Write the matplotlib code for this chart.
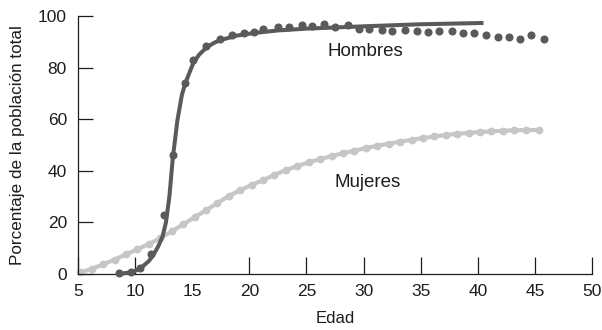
import matplotlib.pyplot as plt

# Hombres: observed points
hombres_edad = [8.6, 9.6, 10.4, 11.4, 12.5, 13.3, 14.4, 15.1, 16.2, 17.4,
                18.5, 19.5, 20.4, 21.2, 22.5, 23.5, 24.6, 25.5, 26.5, 27.5,
                28.6, 29.6, 30.5, 31.6, 32.5, 33.6, 34.7, 35.6, 36.6, 37.7,
                38.7, 39.7, 40.7, 41.8, 42.7, 43.7, 44.7, 45.8]
hombres_pct = [0.2, 0.8, 2.3, 7.6, 23.0, 46.0, 74.0, 83.0, 88.4, 91.0,
               92.6, 93.4, 93.8, 95.0, 95.7, 95.7, 96.5, 96.0, 96.9, 95.9,
               96.5, 95.0, 95.0, 94.6, 94.2, 94.6, 94.2, 93.8, 94.2, 94.2,
               93.4, 93.4, 92.6, 91.9, 91.9, 91.0, 92.6, 91.0]

# Hombres: fitted curve
hombres_fit_edad = [8.6, 9.5, 10.0, 10.6, 11.2, 11.6, 12.0, 12.4, 12.7, 13.0,
                    13.3, 13.7, 14.1, 14.4, 14.8, 15.1, 15.6, 16.3, 17.0, 17.5,
                    18.9, 20.4, 22.5, 25.0, 30.0, 35.0, 40.5]
hombres_fit_pct = [0.0, 0.6, 1.2, 2.7, 5.0, 7.4, 10.5, 14.5, 20.0, 30.0,
                   45.0, 59.5, 69.5, 74.0, 78.5, 81.8, 85.0, 88.0, 89.8, 90.7,
                   92.4, 93.4, 94.4, 95.1, 96.0, 96.8, 97.3]

# Mujeres
mujeres_edad = [5.2, 6.2, 7.2, 8.2, 9.2, 10.2, 11.2, 12.2, 13.2, 14.2,
                15.2, 16.2, 17.2, 18.2, 19.2, 20.2, 21.2, 22.2, 23.2, 24.2,
                25.2, 26.2, 27.2, 28.2, 29.2, 30.2, 31.2, 32.2, 33.2, 34.2,
                35.2, 36.2, 37.2, 38.2, 39.2, 40.2, 41.2, 42.2, 43.2, 44.2,
                45.4]
mujeres_pct = [0.6, 2.0, 3.7, 5.6, 7.6, 9.6, 11.6, 13.9, 16.5, 19.2,
               22.0, 24.7, 27.5, 30.2, 32.5, 34.5, 36.4, 38.4, 40.3, 41.8,
               43.3, 44.5, 45.7, 46.8, 47.8, 48.8, 49.7, 50.5, 51.3, 52.0,
               52.7, 53.3, 53.9, 54.3, 54.7, 55.0, 55.3, 55.5, 55.7, 55.8,
               55.8]

x_ticks = [5, 10, 15, 20, 25, 30, 35, 40, 45, 50]
y_ticks = [0, 20, 40, 60, 80, 100]

dark = '#5a5a5a'
light = '#c6c6c6'
txt = '#1e1c1d'

plt.rcParams['font.family'] = ['Liberation Sans', 'DejaVu Sans']

fig = plt.figure(figsize=(6.02, 3.30), dpi=100)
ax = fig.add_axes([78 / 602, 56 / 330, 514 / 602, 258 / 330])

ax.plot(mujeres_edad, mujeres_pct, color=light, lw=3.0, marker='o', ms=4.6,
        solid_capstyle='round', zorder=2, clip_on=False)
ax.plot(hombres_fit_edad, hombres_fit_pct, color=dark, lw=2.9,
        solid_capstyle='butt', zorder=3, clip_on=False)
ax.plot(hombres_edad, hombres_pct, 'o', color=dark, ms=4.8, zorder=4,
        clip_on=False)

ax.text(30.2, 86.4, 'Hombres', fontsize=13.5, color=txt, ha='center', va='center')
ax.text(30.4, 35.3, 'Mujeres', fontsize=13.5, color=txt, ha='center', va='center')

ax.set_xlim(5, 50)
ax.set_ylim(0, 100)
ax.set_xticks(x_ticks)
ax.set_yticks(y_ticks)
ax.tick_params(axis='x', direction='in', length=12.5, width=0.9, pad=7,
               labelsize=12.5, colors=txt)
ax.tick_params(axis='y', direction='in', length=10.5, width=0.9, pad=8,
               labelsize=12.5, colors=txt)
# no tick mark at 15 in the original
ax.xaxis.get_major_ticks()[2].tick1line.set_visible(False)

for side in ['top', 'right']:
    ax.spines[side].set_visible(False)
for side in ['left', 'bottom']:
    ax.spines[side].set_linewidth(0.9)
    ax.spines[side].set_color(txt)

ax.set_xlabel('Edad', fontsize=12, color=txt, labelpad=9)
ax.set_ylabel('Porcentaje de la población total', fontsize=12.3, color=txt,
              labelpad=9)

fig.savefig('out.png', dpi=100)
